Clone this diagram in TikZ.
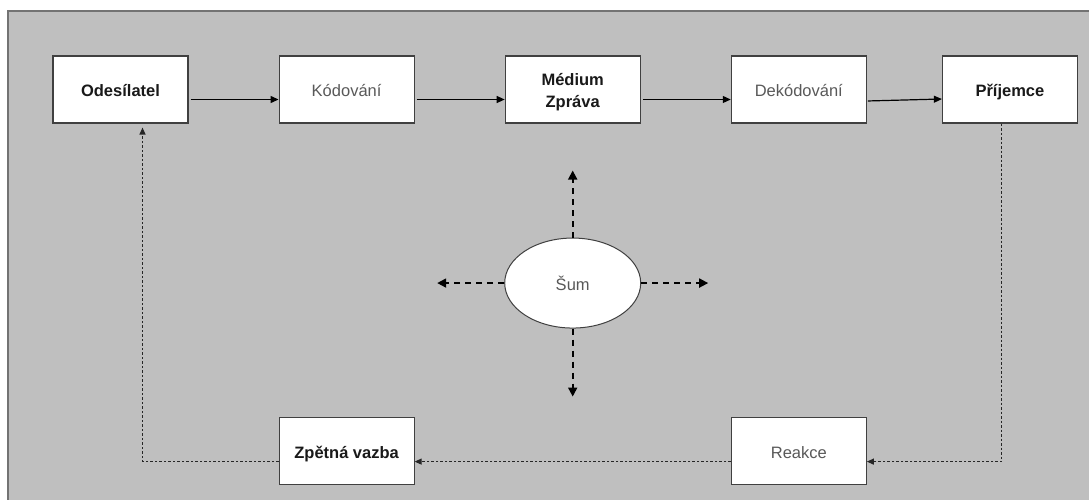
\documentclass[tikz,border=0pt]{standalone}
\usepackage{fontspec}
\setmainfont{Liberation Sans}
\usepackage{xcolor}
\usetikzlibrary{arrows.meta,positioning,shapes.geometric,calc}

\begin{document}
\begin{tikzpicture}[x=1pt, y=-1pt,
    module/.style={rectangle, draw=black!75, line width=1.1pt, fill=white, minimum width=135pt, minimum height=67pt, inner sep=0pt, text height=15pt, text depth=0pt, align=center, font=\fontsize{16.5}{22}\selectfont},
    strong/.style={font=\fontsize{16.5}{22}\selectfont\bfseries, text=black!90},
    plain/.style={text=black!65},
    noise/.style={ellipse, draw=black!75, line width=1pt, fill=white, minimum width=136pt, minimum height=90pt, inner sep=0pt, font=\fontsize{16.5}{22}\selectfont, text=black!65},
    arrow/.style={-{Triangle[length=8pt,width=7pt]}, line width=1.2pt, black},
    noisearrow/.style={-{Triangle[length=9pt,width=9pt]}, line width=1.8pt, black, dash pattern=on 6pt off 5pt},
    back/.style={-{Triangle[length=7pt,width=6pt]}, line width=1.1pt, black!85, dash pattern=on 2.5pt off 2pt}
]
\useasboundingbox (0,0) rectangle (1089,500);
\fill[gray!50] (8,11) rectangle (1089,500);
\draw[black!55, line width=1.2pt] (8,500) -- (8,11) -- (1089,11);

\node[module, strong] (odes) at (120.5,89.5) {Odesílatel};
\node[module, plain, right=90pt of odes] (kod) {Kódování};
\node[module, strong, text height=37pt, right=90pt of kod] (med) {Médium\\Zpráva};
\node[module, plain, right=90pt of med] (dek) {Dekódování};
\node[module, strong, right=75pt of dek] (pri) {Příjemce};
\node[module, plain, below=293pt of dek] (rea) {Reakce};
\node[module, strong, below=293pt of kod] (zpet) {Zpětná vazba};
\node[noise, below=114pt of med] (sum) {Šum};

\coordinate[above=67pt of sum] (sup);
\coordinate[below=68pt of sum] (sdown);
\coordinate[left=67pt of sum] (sleft);
\coordinate[right=67pt of sum] (sright);

\draw[arrow, shorten <=2pt] ([yshift=-10pt]odes.east) -- ([yshift=-10pt]kod.west);
\draw[arrow, shorten <=2pt] ([yshift=-10pt]kod.east) -- ([yshift=-10pt]med.west);
\draw[arrow, shorten <=2pt] ([yshift=-10pt]med.east) -- ([yshift=-10pt]dek.west);
\draw[arrow, shorten <=1pt] ([yshift=-11.5pt]dek.east) -- ([yshift=-9.5pt]pri.west);

\draw[noisearrow] (sum.north) -- (sup);
\draw[noisearrow] (sum.south) -- (sdown);
\draw[noisearrow] (sum.west) -- (sleft);
\draw[noisearrow] (sum.east) -- (sright);

\draw[back] ([xshift=-8pt]pri.south) |- ([yshift=-11pt]rea.east);
\draw[back] ([yshift=-11pt]rea.west) -- ([yshift=-11pt]zpet.east);
\draw[back, shorten >=4pt] ([yshift=-11pt]zpet.west) -| ([xshift=22pt]odes.south);
\end{tikzpicture}
\end{document}
